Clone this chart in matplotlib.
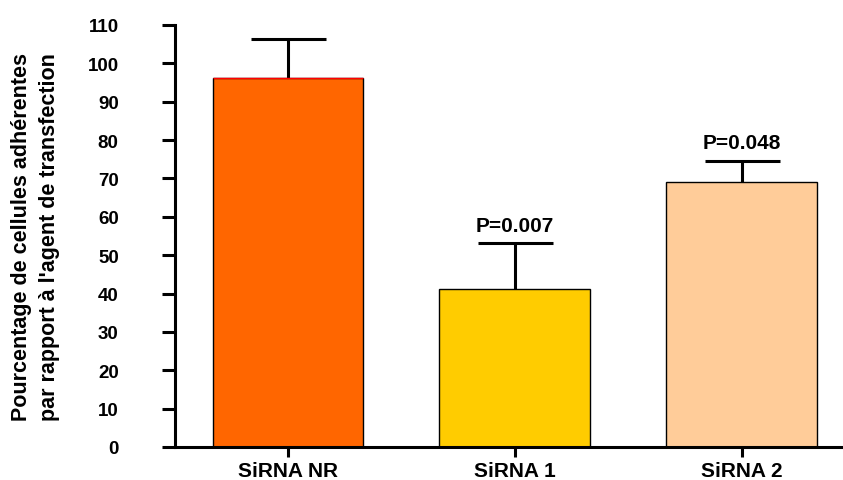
import matplotlib
matplotlib.use("Agg")
import matplotlib.pyplot as plt
import numpy as np

# Data
groups = ["SiRNA NR", "SiRNA 1", "SiRNA 2"]
means = [96.1, 41.2, 69.1]
errors = [10.3, 11.9, 5.5]
pvalues = ["", "P=0.007", "P=0.048"]
colors = ["#FF6600", "#FFCC00", "#FFCC99"]
yticks = list(range(0, 111, 10))

plt.rcParams["font.family"] = ["Liberation Sans", "DejaVu Sans"]
plt.rcParams["font.weight"] = "bold"

fig = plt.figure(figsize=(8.43, 4.81), dpi=100)
ax = fig.add_axes([175 / 843, 33 / 481, 668 / 843, 422 / 481])

x = np.arange(len(groups))
bars = ax.bar(x, means, width=0.665, color=colors, edgecolor="black", linewidth=1, zorder=2)

# upper error bars only
eb = ax.errorbar(x, means, yerr=[np.zeros(len(means)), errors], fmt="none",
                 ecolor="black", elinewidth=2.2, capsize=27, capthick=2.2, zorder=3)
eb[1][0].set_visible(False)  # hide the lower caps

# thin red line on top of the first bar
b0 = bars[0]
ax.hlines(means[0], b0.get_x(), b0.get_x() + b0.get_width(), color="red", lw=1, zorder=4)

for xi, m, e, p in zip(x, means, errors, pvalues):
    if p:
        ax.text(xi, m + e + 2.2, p, ha="center", va="bottom", fontsize=15, fontweight="bold")

ax.set_xlim(-0.498, 2.447)
ax.set_ylim(0, 110)
ax.set_yticks(yticks)
ax.set_xticks(x)
ax.set_xticklabels(groups, fontsize=15, fontweight="bold")
ax.tick_params(axis="y", labelsize=13.5, width=2.2, length=9.5, direction="out", pad=31)
ax.tick_params(axis="x", width=2.2, length=7.5, direction="out", pad=2.5)
for lab in ax.get_yticklabels():
    lab.set_fontweight("bold")

for s in ["top", "right"]:
    ax.spines[s].set_visible(False)
for s in ["left", "bottom"]:
    ax.spines[s].set_linewidth(2.2)

ax.set_ylabel("Pourcentage de cellules adhérentes\npar rapport à l'agent de transfection",
              fontsize=15.5, fontweight="bold", labelpad=20, linespacing=1.4)

fig.savefig("out.png", dpi=100)
